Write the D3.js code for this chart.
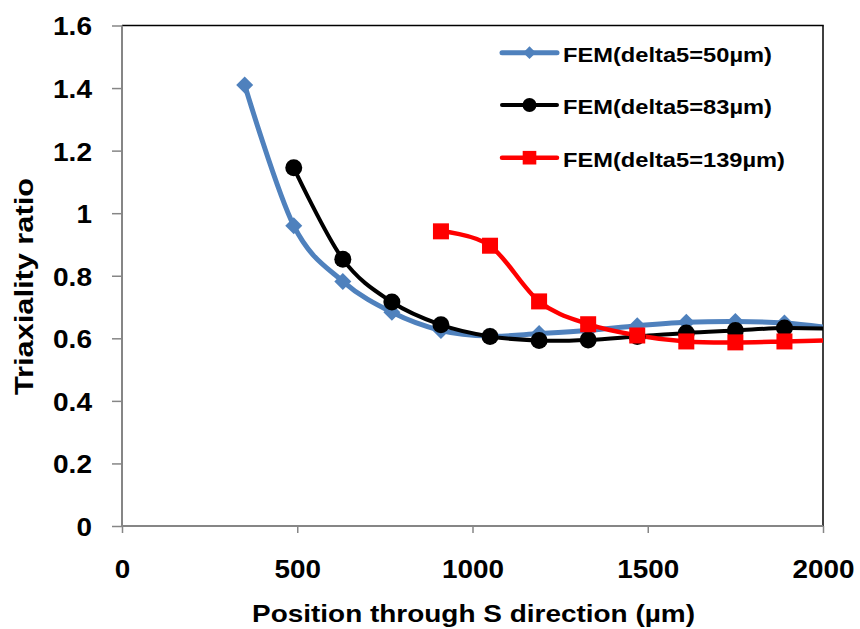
<!DOCTYPE html>
<html>
<head>
<meta charset="utf-8">
<script src="https://cdn.jsdelivr.net/npm/d3@7/dist/d3.min.js"></script>
<style>
  html, body { margin: 0; padding: 0; background: #fff; }
  svg { display: block; }
  text { font-family: "Liberation Sans", Arial, sans-serif; font-weight: bold; fill: #000; }
</style>
</head>
<body>
<svg id="chart" width="860" height="629"></svg>
<script>
// ---- data ----
const positions = [350, 490, 630, 770, 910, 1050, 1190, 1330, 1470, 1610, 1750, 1890, 2030];
const delta50  = [1.41, 0.96, 0.782, 0.683, 0.625, 0.607, 0.615, 0.625, 0.64, 0.651, 0.654, 0.649, 0.632];
const delta83  = [null, 1.145, 0.853, 0.716, 0.643, 0.606, 0.593, 0.595, 0.606, 0.617, 0.625, 0.633, 0.630];
const delta139 = [null, null, null, null, 0.942, 0.896, 0.718, 0.645, 0.609, 0.590, 0.587, 0.590, 0.594];
const seriesNames = ["FEM(delta5=50\u00b5m)", "FEM(delta5=83\u00b5m)", "FEM(delta5=139\u00b5m)"];
const xTicks = [0, 500, 1000, 1500, 2000];
const yTicks = [0, 0.2, 0.4, 0.6, 0.8, 1, 1.2, 1.4, 1.6];
const xTitle = "Position through S direction (\u00b5m)";
const yTitle = "Triaxiality ratio";

// ---- layout ----
const svg = d3.select("#chart");
const L = 122, R = 823, T = 25.5, B = 526;
const x = d3.scaleLinear().domain([0, 2000]).range([L, R]);
const y = d3.scaleLinear().domain([0, 1.6]).range([B, T]);

const styles = [
  { color: "#4F81BD", width: 5,   marker: "diamond", size: 8.5, legendScale: 0.75 },
  { color: "#000000", width: 4,   marker: "circle",  size: 8.5, legendScale: 0.82 },
  { color: "#FF0000", width: 4.5, marker: "square",  size: 8,   legendScale: 0.85 }
];
const allSeries = [delta50, delta83, delta139].map((vals, i) => ({
  name: seriesNames[i],
  style: styles[i],
  points: positions.map((p, j) => ({ x: p, y: vals[j] })).filter(d => d.y != null)
}));

function fit(sel, w) {
  sel.attr("textLength", w).attr("lengthAdjust", "spacingAndGlyphs");
}
function labelWidth(s) {
  let w = 0;
  for (const c of s) w += (c === ".") ? 8 : 15.5;
  return w;
}

// clip
svg.append("defs").append("clipPath").attr("id", "plotclip")
  .append("rect").attr("x", L).attr("y", T - 20).attr("width", R - L).attr("height", B - T + 40);

// plot border (top/right black)
svg.append("line").attr("x1", L).attr("x2", R + 0.75).attr("y1", T).attr("y2", T)
  .attr("stroke", "#000").attr("stroke-width", 1.5);
svg.append("line").attr("x1", R).attr("x2", R).attr("y1", T).attr("y2", B)
  .attr("stroke", "#000").attr("stroke-width", 1.5);

// y axis
const yAxis = svg.append("g").attr("transform", `translate(${L},0)`)
  .call(d3.axisLeft(y).tickValues(yTicks).tickSize(10).tickFormat(d3.format("~g")));
yAxis.select(".domain").attr("stroke", "#868686").attr("stroke-width", 2).attr("d", `M0,${T}V${B}`);
yAxis.selectAll(".tick line").attr("stroke", "#868686").attr("stroke-width", 1.5);
yAxis.selectAll(".tick text")
  .attr("x", -30).attr("dy", "0.36em")
  .style("font-size", "26px").style("font-family", "Liberation Sans, Arial, sans-serif")
  .style("font-weight", "bold").attr("fill", "#000")
  .each(function (d) { fit(d3.select(this), labelWidth(d3.format("~g")(d))); });

// x axis
const xAxis = svg.append("g").attr("transform", `translate(0,${B})`)
  .call(d3.axisBottom(x).tickValues(xTicks).tickSize(7).tickFormat(d3.format("d")));
xAxis.select(".domain").attr("stroke", "#868686").attr("stroke-width", 2).attr("d", `M${L},0H${R}`);
xAxis.selectAll(".tick line").attr("stroke", "#868686").attr("stroke-width", 1.5);
xAxis.selectAll(".tick text")
  .attr("y", 51.5).attr("dy", 0)
  .style("font-size", "26px").style("font-family", "Liberation Sans, Arial, sans-serif")
  .style("font-weight", "bold").attr("fill", "#000")
  .each(function (d) { fit(d3.select(this), labelWidth(String(d))); });

// titles
svg.append("text").attr("x", 473.5).attr("y", 622).attr("text-anchor", "middle")
  .style("font-size", "24px").text(xTitle).call(fit, 443);
svg.append("text").attr("transform", "translate(33,286.5) rotate(-90)").attr("text-anchor", "middle")
  .style("font-size", "26px").text(yTitle).call(fit, 217);

// lines
const line = d3.line().x(d => x(d.x)).y(d => y(d.y)).curve(d3.curveCatmullRom.alpha(0));
const plot = svg.append("g").attr("clip-path", "url(#plotclip)");

function drawMarker(g, s, cx, cy, scale) {
  const k = s.size * (scale || 1);
  if (s.marker === "diamond") {
    g.append("path").attr("d", `M${cx},${cy - k}L${cx + k},${cy}L${cx},${cy + k}L${cx - k},${cy}Z`)
      .attr("fill", s.color);
  } else if (s.marker === "circle") {
    g.append("circle").attr("cx", cx).attr("cy", cy).attr("r", k).attr("fill", s.color);
  } else {
    g.append("rect").attr("x", cx - k).attr("y", cy - k).attr("width", 2 * k).attr("height", 2 * k)
      .attr("fill", s.color);
  }
}

allSeries.forEach(sr => {
  plot.append("path").datum(sr.points).attr("d", line)
    .attr("fill", "none").attr("stroke", sr.style.color)
    .attr("stroke-width", sr.style.width).attr("stroke-linejoin", "round").attr("stroke-linecap", "round");
});
allSeries.forEach(sr => {
  const g = plot.append("g");
  sr.points.filter(d => d.x <= 2000).forEach(d => drawMarker(g, sr.style, x(d.x), y(d.y)));
});

// legend
const legendRows = [52.7, 105, 157.7];
const legendWidths = [209, 209, 222];
allSeries.forEach((sr, i) => {
  const g = svg.append("g");
  const ly = legendRows[i];
  g.append("line").attr("x1", 502).attr("x2", 557).attr("y1", ly).attr("y2", ly)
    .attr("stroke", sr.style.color).attr("stroke-width", sr.style.width).attr("stroke-linecap", "round");
  drawMarker(g, sr.style, 529.5, ly, sr.style.legendScale);
  g.append("text").attr("x", 563).attr("y", ly + 9).style("font-size", "21px")
    .text(sr.name).call(fit, legendWidths[i]);
});
</script>
</body>
</html>
